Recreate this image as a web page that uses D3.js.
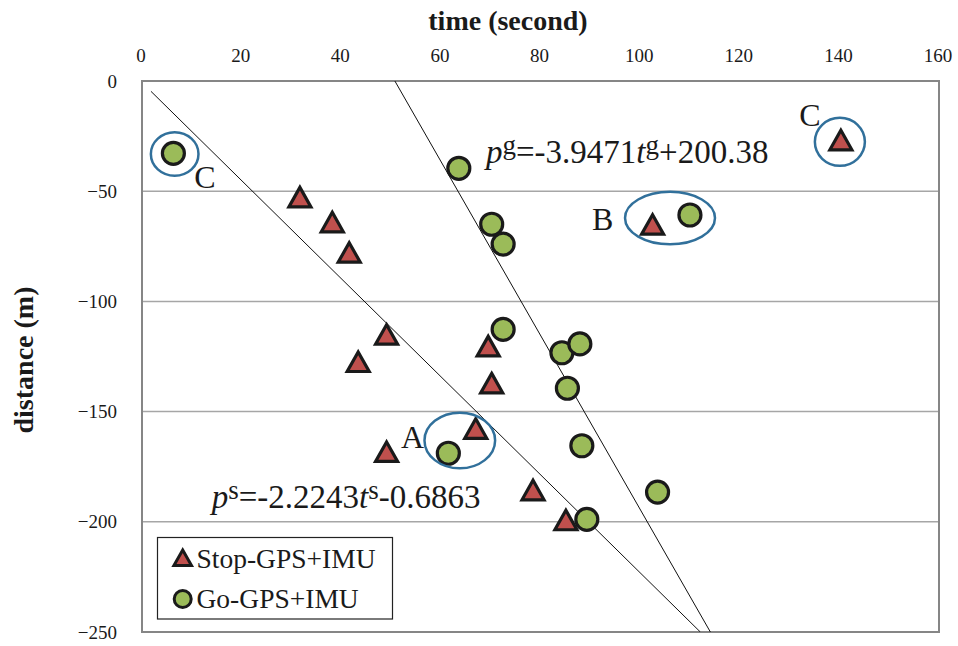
<!DOCTYPE html>
<html>
<head>
<meta charset="utf-8">
<script src="https://cdn.jsdelivr.net/npm/d3@7/dist/d3.min.js"></script>
<style>
  html, body { margin: 0; padding: 0; background: #fff; }
  svg { display: block; font-family: "Liberation Serif", "Times New Roman", serif; }
</style>
</head>
<body>
<svg id="chart" width="958" height="646"></svg>
<script>
// Stop-phase positions (time in s, distance in m)
const stopTime = [31.7, 38.2, 41.6, 49.1, 43.4, 49.1, 69.5, 70.2, 67.0, 78.5, 85.1, 102.5, 140.3];
const stopDist = [-52.8, -64.1, -77.9, -115.1, -127.5, -168.3, -120.4, -137.2, -157.8, -185.7, -199.3, -65.2, -26.9];

// Go-phase positions
const goTime = [6.3, 63.6, 70.2, 72.5, 110.0, 72.5, 84.3, 87.9, 85.4, 61.5, 88.3, 103.5, 89.3];
const goDist = [-32.8, -39.6, -65.0, -74.0, -60.8, -112.7, -123.3, -119.3, -139.4, -168.9, -165.5, -186.5, -198.9];

// Axis ticks
const timeTicks = [0, 20, 40, 60, 80, 100, 120, 140, 160];
const distTicks = [0, -50, -100, -150, -200, -250];

// Linear fits p = slope * t + intercept, drawn between tStart and the axis bottom
const fitNames = ["stop", "go"];
const fitSlope = [-2.2243, -3.9471];
const fitIntercept = [-0.6863, 200.38];
const fitStart = [1.8, 50.77];

// Circled groups: label, ellipse centre (t, p) and half extents in data units
const groupLabel = ["C", "B", "C", "A"];
const groupCx = [6.56, 106.0, 140.1, 63.8];
const groupCy = [-33.1, -62.2, -27.6, -163.1];
const groupRx = [4.78, 9.03, 5.02, 7.09];
const groupRy = [9.85, 11.9, 10.9, 12.6];
const groupTextT = [12.65, 92.5, 134.1, 54.3];
const groupTextP = [-43.6, -62.3, -15.4, -161.4];

const svg = d3.select("#chart");
const plot = { left: 142, right: 939, top: 81, bottom: 632 };

const x = d3.scaleLinear().domain([0, 160]).range([plot.left, plot.right]);
const y = d3.scaleLinear().domain([-250, 0]).range([plot.bottom, plot.top]);

const RED = "#C0504D", GREEN = "#9BBB59", RING = "#31709B", INK = "#1a1a1a";
const SERIF = "'Liberation Serif', 'Times New Roman', serif";

// Horizontal gridlines
svg.append("g")
  .selectAll("line")
  .data(distTicks.filter(d => d !== 0 && d !== -250))
  .join("line")
  .attr("x1", plot.left).attr("x2", plot.right)
  .attr("y1", d => y(d)).attr("y2", d => y(d))
  .attr("stroke", "#a6a6a6").attr("stroke-width", 1.5);

// Plot frame
svg.append("rect")
  .attr("x", plot.left).attr("y", plot.top)
  .attr("width", plot.right - plot.left).attr("height", plot.bottom - plot.top)
  .attr("fill", "none").attr("stroke", "#868686").attr("stroke-width", 2);

// Top time axis (labels only)
const xAxis = d3.axisTop(x).tickValues(timeTicks).tickSize(0).tickPadding(0).tickFormat(d3.format("d"));
const gx = svg.append("g").attr("transform", `translate(-1.5,${plot.top - 19})`).call(xAxis)
  .attr("font-family", SERIF).attr("font-size", 19);
gx.select(".domain").remove();
gx.selectAll("text").attr("fill", "#1a1a1a");

// Left distance axis (labels only)
const yAxis = d3.axisLeft(y).tickValues(distTicks).tickSize(0).tickPadding(0).tickFormat(d3.format("d"));
const gy = svg.append("g").attr("transform", `translate(117,0)`).call(yAxis)
  .attr("font-family", SERIF).attr("font-size", 19);
gy.select(".domain").remove();
gy.selectAll("text").attr("fill", "#1a1a1a");

// Axis titles
svg.append("text")
  .attr("x", 508).attr("y", 30)
  .attr("text-anchor", "middle")
  .attr("font-size", 28).attr("font-weight", "bold").attr("fill", "#1a1a1a")
  .text("time (second)");

svg.append("text")
  .attr("transform", `translate(33,360) rotate(-90)`)
  .attr("text-anchor", "middle")
  .attr("font-size", 28).attr("font-weight", "bold").attr("fill", "#1a1a1a")
  .text("distance (m)");

// Fitted lines
svg.append("defs").append("clipPath").attr("id", "plotClip")
  .append("rect").attr("x", plot.left).attr("y", plot.top)
  .attr("width", plot.right - plot.left).attr("height", plot.bottom - plot.top);

svg.append("g").attr("clip-path", "url(#plotClip)")
  .selectAll("line")
  .data(fitNames.map((n, i) => ({
    t0: fitStart[i],
    t1: (-250 - fitIntercept[i]) / fitSlope[i],
    m: fitSlope[i], b: fitIntercept[i]
  })))
  .join("line")
  .attr("x1", d => x(d.t0)).attr("y1", d => y(d.m * d.t0 + d.b))
  .attr("x2", d => x(d.t1)).attr("y2", d => y(d.m * d.t1 + d.b))
  .attr("stroke", "#111").attr("stroke-width", 1);

// Marker shapes
const triPath = s => `M0,${-10 * s}L${11 * s},${9.5 * s}L${-11 * s},${9.5 * s}Z`;

// Go markers
svg.append("g")
  .selectAll("circle")
  .data(goTime.map((t, i) => ({ t, p: goDist[i] })))
  .join("circle")
  .attr("cx", d => x(d.t)).attr("cy", d => y(d.p)).attr("r", 11)
  .attr("fill", GREEN).attr("stroke", INK).attr("stroke-width", 3.2);

// Stop markers
svg.append("g")
  .selectAll("path")
  .data(stopTime.map((t, i) => ({ t, p: stopDist[i] })))
  .join("path")
  .attr("transform", d => `translate(${x(d.t)},${y(d.p)})`)
  .attr("d", triPath(1))
  .attr("fill", RED).attr("stroke", INK).attr("stroke-width", 3.2)
  .attr("stroke-linejoin", "miter");

// Circled groups and their labels
const groups = groupLabel.map((label, i) => ({
  label, cx: groupCx[i], cy: groupCy[i], rx: groupRx[i], ry: groupRy[i],
  tt: groupTextT[i], tp: groupTextP[i]
}));
svg.append("g")
  .selectAll("ellipse")
  .data(groups)
  .join("ellipse")
  .attr("cx", d => x(d.cx)).attr("cy", d => y(d.cy))
  .attr("rx", d => x(d.rx) - x(0)).attr("ry", d => y(0) - y(d.ry))
  .attr("fill", "none").attr("stroke", RING).attr("stroke-width", 2.5);

svg.append("g")
  .selectAll("text")
  .data(groups)
  .join("text")
  .attr("x", d => x(d.tt)).attr("y", d => y(d.tp))
  .attr("dy", "0.35em")
  .attr("text-anchor", "middle")
  .attr("font-size", 32).attr("fill", "#1a1a1a")
  .text(d => d.label);

// Fit equations
function equation(tAnchor, pAnchor, sym, m, b) {
  const t = svg.append("text")
    .attr("x", x(tAnchor)).attr("y", y(pAnchor))
    .attr("font-size", 33).attr("fill", "#1a1a1a");
  t.append("tspan").attr("font-style", "italic").text("p");
  t.append("tspan").attr("font-size", 27).attr("dy", -9).text(sym);
  t.append("tspan").attr("dy", 9).text("=" + m);
  t.append("tspan").attr("font-style", "italic").text("t");
  t.append("tspan").attr("font-size", 27).attr("dy", -9).text(sym);
  t.append("tspan").attr("dy", 9).text((b >= 0 ? "+" : "") + b);
}
equation(69.06, -37.3, "g", fitSlope[1], fitIntercept[1]);
equation(14.0, -193.7, "s", fitSlope[0], fitIntercept[0]);

// Legend
const legend = svg.append("g");
legend.append("rect")
  .attr("x", 157.5).attr("y", 537.5).attr("width", 235).attr("height", 81.5)
  .attr("fill", "#fff").attr("stroke", "#222").attr("stroke-width", 1.2);
legend.append("path")
  .attr("transform", "translate(182.7,558)")
  .attr("d", triPath(0.8))
  .attr("fill", RED).attr("stroke", INK).attr("stroke-width", 3);
legend.append("text")
  .attr("x", 196.5).attr("y", 568)
  .attr("font-size", 27.5).attr("fill", "#1a1a1a")
  .text("Stop-GPS+IMU");
legend.append("circle")
  .attr("cx", 182.7).attr("cy", 599).attr("r", 8.5)
  .attr("fill", GREEN).attr("stroke", INK).attr("stroke-width", 3);
legend.append("text")
  .attr("x", 196.5).attr("y", 607.5)
  .attr("font-size", 27.5).attr("fill", "#1a1a1a")
  .text("Go-GPS+IMU");
</script>
</body>
</html>
